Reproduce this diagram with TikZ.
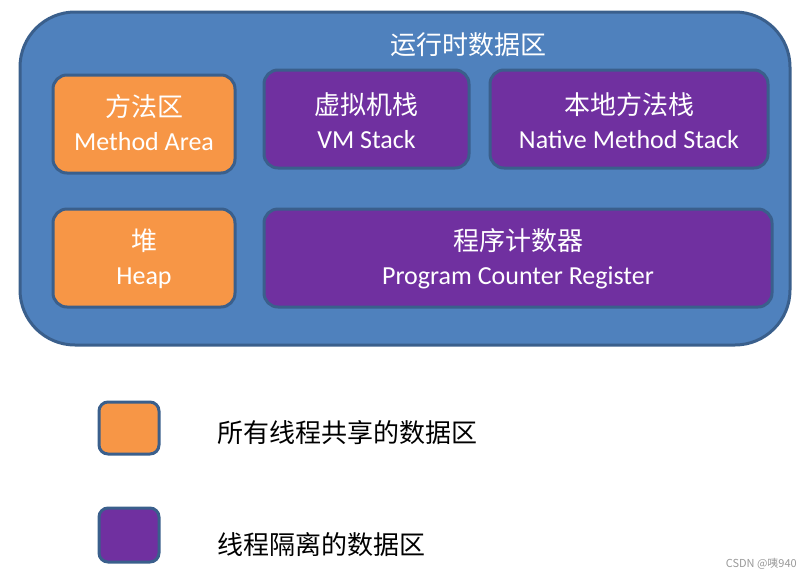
\documentclass[tikz,border=0pt]{standalone}
\usepackage{fontspec}
\setmainfont{Carlito}
\newfontfamily\cjk{Noto Sans CJK SC}
\definecolor{areablue}{HTML}{4F81BD}
\definecolor{edgeblue}{HTML}{3A5F8C}
\definecolor{sharedorange}{HTML}{F79646}
\definecolor{privpurple}{HTML}{7030A0}
\tikzset{
  x=1pt, y=-1pt,
  outerbox/.style={draw=edgeblue, line width=3pt, fill=areablue, rounded corners=55pt},
  membox/.style={draw=edgeblue, line width=3pt, rounded corners=14pt},
  shared/.style={membox, fill=sharedorange},
  private/.style={membox, fill=privpurple},
  memtext/.style={text=white, align=center, font=\fontsize{26}{34}\selectfont, inner sep=0pt},
  legbox/.style={draw=edgeblue, line width=3pt, rounded corners=9pt},
  legtext/.style={anchor=west, font=\cjk\fontsize{26}{30}\selectfont, text=black, inner sep=0pt},
}
\begin{document}
\begin{tikzpicture}
\useasboundingbox (0,0) rectangle (811,579);
% outer runtime data area
\path[outerbox] (20,12) rectangle (790,345);
\node[text=white, font=\cjk\fontsize{26}{30}\selectfont, inner sep=0pt] (title) at (468,45) {运行时数据区};
% shared areas
\draw[shared] (53,75) rectangle (235,173);
\node[memtext] (method) at (144,123) {{\cjk 方法区}\\Method Area};
\draw[shared] (53,209) rectangle (235,307);
\node[memtext] (heap) at (144,259) {{\cjk 堆}\\Heap};
% thread-private areas
\draw[private] (264,70) rectangle (469,168);
\node[memtext] (vmstack) at (366.5,121) {{\cjk 虚拟机栈}\\VM Stack};
\draw[private] (490,70) rectangle (768,168);
\node[memtext] (native) at (629,121) {{\cjk 本地方法栈}\\Native Method Stack};
\draw[private] (264,209) rectangle (772,307);
\node[memtext] (pc) at (518,259) {{\cjk 程序计数器}\\Program Counter Register};
% legend
\draw[legbox, fill=sharedorange] (99,402) rectangle (159,454);
\coordinate (legA) at (129,428);
\node[legtext] (sharedtxt) at (217,433) {所有线程共享的数据区};
\draw[legbox, fill=privpurple] (99,508) rectangle (159,562);
\coordinate (legB) at (129,535);
\node[legtext] (privtxt) at (217,545) {线程隔离的数据区};
% watermark
\node[anchor=east, text=gray!80, font=\cjk\fontsize{11}{12}\selectfont, inner sep=0pt] (wm) at (797,564) {CSDN @咦940};
\end{tikzpicture}
\end{document}
